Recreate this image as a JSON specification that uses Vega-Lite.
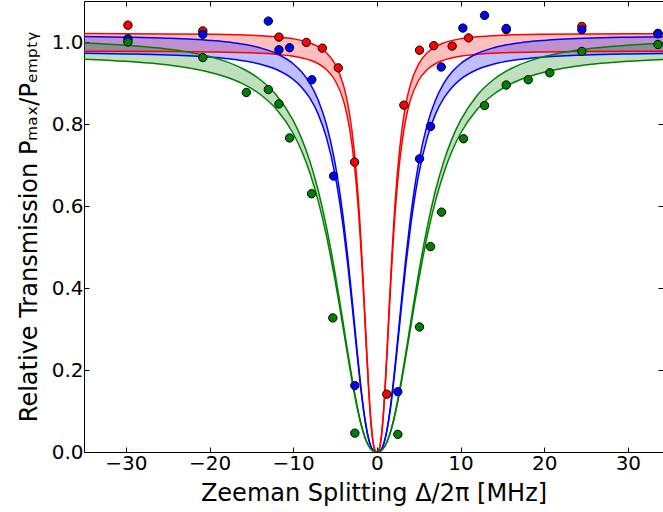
{
  "$schema": "https://vega.github.io/schema/vega-lite/v6.json",
  "autosize": "none",
  "width": 579,
  "height": 451,
  "padding": {"left": 84, "top": 1, "right": 0, "bottom": 60},
  "background": "white",
  "config": {
    "view": {"stroke": "black", "strokeWidth": 1},
    "font": "DejaVu Sans",
    "axis": {
      "domain": false,
      "grid": false,
      "tickColor": "black",
      "tickSize": -5,
      "tickWidth": 1,
      "labelColor": "black",
      "labelFont": "DejaVu Sans",
      "labelFontSize": 20,
      "titleFont": "DejaVu Sans",
      "titleFontSize": 24,
      "titleFontWeight": "normal",
      "titleColor": "black",
      "labelPadding": 6
    }
  },
  "datasets": {
    "curves": [
      {"c":"red","x":-35,"lo":0.9775,"hi":1.0205},{"c":"red","x":-30,"lo":0.9773,"hi":1.0203},{"c":"red","x":-25,"lo":0.9768,"hi":1.0198},{"c":"red","x":-20,"lo":0.9759,"hi":1.0189},{"c":"red","x":-15,"lo":0.9736,"hi":1.0164},{"c":"red","x":-12,"lo":0.9702,"hi":1.0128},{"c":"red","x":-10,"lo":0.9655,"hi":1.0079},{"c":"red","x":-8,"lo":0.9558,"hi":0.9978},{"c":"red","x":-7,"lo":0.947,"hi":0.9886},{"c":"red","x":-6,"lo":0.9324,"hi":0.9734},{"c":"red","x":-5,"lo":0.9067,"hi":0.9466},{"c":"red","x":-4,"lo":0.8576,"hi":0.8953},{"c":"red","x":-3.5,"lo":0.8158,"hi":0.8517},{"c":"red","x":-3,"lo":0.7542,"hi":0.7874},{"c":"red","x":-2.5,"lo":0.6621,"hi":0.6912},{"c":"red","x":-2,"lo":0.5281,"hi":0.5513},{"c":"red","x":-1.75,"lo":0.4435,"hi":0.463},{"c":"red","x":-1.5,"lo":0.3494,"hi":0.3648},{"c":"red","x":-1.25,"lo":0.2514,"hi":0.2625},{"c":"red","x":-1,"lo":0.1587,"hi":0.1657},{"c":"red","x":-0.75,"lo":0.0821,"hi":0.0857},{"c":"red","x":-0.5,"lo":0.0303,"hi":0.0317},{"c":"red","x":-0.25,"lo":0.0051,"hi":0.0054},{"c":"red","x":0,"lo":0,"hi":0},{"c":"red","x":0.25,"lo":0.0051,"hi":0.0054},{"c":"red","x":0.5,"lo":0.0303,"hi":0.0317},{"c":"red","x":0.75,"lo":0.0821,"hi":0.0857},{"c":"red","x":1,"lo":0.1587,"hi":0.1657},{"c":"red","x":1.25,"lo":0.2514,"hi":0.2625},{"c":"red","x":1.5,"lo":0.3494,"hi":0.3648},{"c":"red","x":1.75,"lo":0.4435,"hi":0.463},{"c":"red","x":2,"lo":0.5281,"hi":0.5513},{"c":"red","x":2.5,"lo":0.6621,"hi":0.6912},{"c":"red","x":3,"lo":0.7542,"hi":0.7874},{"c":"red","x":3.5,"lo":0.8158,"hi":0.8517},{"c":"red","x":4,"lo":0.8576,"hi":0.8953},{"c":"red","x":5,"lo":0.9067,"hi":0.9466},{"c":"red","x":6,"lo":0.9324,"hi":0.9734},{"c":"red","x":7,"lo":0.947,"hi":0.9886},{"c":"red","x":8,"lo":0.9558,"hi":0.9978},{"c":"red","x":10,"lo":0.9655,"hi":1.0079},{"c":"red","x":12,"lo":0.9702,"hi":1.0128},{"c":"red","x":15,"lo":0.9736,"hi":1.0164},{"c":"red","x":20,"lo":0.9759,"hi":1.0189},{"c":"red","x":25,"lo":0.9768,"hi":1.0198},{"c":"red","x":30,"lo":0.9773,"hi":1.0203},{"c":"red","x":35,"lo":0.9775,"hi":1.0205},
      {"c":"blue","x":-35,"lo":0.9723,"hi":1.0132},{"c":"blue","x":-30,"lo":0.9709,"hi":1.0117},{"c":"blue","x":-25,"lo":0.9685,"hi":1.0092},{"c":"blue","x":-20,"lo":0.9634,"hi":1.0039},{"c":"blue","x":-17,"lo":0.9575,"hi":0.9977},{"c":"blue","x":-14,"lo":0.9463,"hi":0.9861},{"c":"blue","x":-12,"lo":0.9328,"hi":0.972},{"c":"blue","x":-10,"lo":0.9088,"hi":0.947},{"c":"blue","x":-9,"lo":0.8899,"hi":0.9273},{"c":"blue","x":-8,"lo":0.8629,"hi":0.8992},{"c":"blue","x":-7,"lo":0.8235,"hi":0.8581},{"c":"blue","x":-6,"lo":0.765,"hi":0.7972},{"c":"blue","x":-5,"lo":0.6766,"hi":0.705},{"c":"blue","x":-4.5,"lo":0.617,"hi":0.6429},{"c":"blue","x":-4,"lo":0.5453,"hi":0.5682},{"c":"blue","x":-3.5,"lo":0.461,"hi":0.4804},{"c":"blue","x":-3,"lo":0.3658,"hi":0.3812},{"c":"blue","x":-2.5,"lo":0.2653,"hi":0.2765},{"c":"blue","x":-2,"lo":0.1688,"hi":0.1759},{"c":"blue","x":-1.5,"lo":0.0879,"hi":0.0916},{"c":"blue","x":-1,"lo":0.0326,"hi":0.0339},{"c":"blue","x":-0.5,"lo":0.0055,"hi":0.0058},{"c":"blue","x":0,"lo":0,"hi":0},{"c":"blue","x":0.5,"lo":0.0055,"hi":0.0058},{"c":"blue","x":1,"lo":0.0326,"hi":0.0339},{"c":"blue","x":1.5,"lo":0.0879,"hi":0.0916},{"c":"blue","x":2,"lo":0.1688,"hi":0.1759},{"c":"blue","x":2.5,"lo":0.2653,"hi":0.2765},{"c":"blue","x":3,"lo":0.3658,"hi":0.3812},{"c":"blue","x":3.5,"lo":0.461,"hi":0.4804},{"c":"blue","x":4,"lo":0.5453,"hi":0.5682},{"c":"blue","x":4.5,"lo":0.617,"hi":0.6429},{"c":"blue","x":5,"lo":0.6766,"hi":0.705},{"c":"blue","x":6,"lo":0.765,"hi":0.7972},{"c":"blue","x":7,"lo":0.8235,"hi":0.8581},{"c":"blue","x":8,"lo":0.8629,"hi":0.8992},{"c":"blue","x":9,"lo":0.8899,"hi":0.9273},{"c":"blue","x":10,"lo":0.9088,"hi":0.947},{"c":"blue","x":12,"lo":0.9328,"hi":0.972},{"c":"blue","x":14,"lo":0.9463,"hi":0.9861},{"c":"blue","x":17,"lo":0.9575,"hi":0.9977},{"c":"blue","x":20,"lo":0.9634,"hi":1.0039},{"c":"blue","x":25,"lo":0.9685,"hi":1.0092},{"c":"blue","x":30,"lo":0.9709,"hi":1.0117},{"c":"blue","x":35,"lo":0.9723,"hi":1.0132},
      {"c":"green","x":-35,"lo":0.9582,"hi":0.9977},{"c":"green","x":-30,"lo":0.953,"hi":0.9923},{"c":"green","x":-26,"lo":0.9462,"hi":0.9853},{"c":"green","x":-23,"lo":0.9384,"hi":0.9771},{"c":"green","x":-20,"lo":0.9264,"hi":0.9646},{"c":"green","x":-18,"lo":0.9145,"hi":0.9522},{"c":"green","x":-16,"lo":0.8977,"hi":0.9348},{"c":"green","x":-14,"lo":0.8732,"hi":0.9092},{"c":"green","x":-12,"lo":0.8358,"hi":0.8702},{"c":"green","x":-10,"lo":0.7768,"hi":0.8088},{"c":"green","x":-9,"lo":0.7347,"hi":0.765},{"c":"green","x":-8,"lo":0.6807,"hi":0.7088},{"c":"green","x":-7,"lo":0.6119,"hi":0.6371},{"c":"green","x":-6,"lo":0.5251,"hi":0.5467},{"c":"green","x":-5.5,"lo":0.4744,"hi":0.494},{"c":"green","x":-5,"lo":0.4194,"hi":0.4367},{"c":"green","x":-4.5,"lo":0.3605,"hi":0.3754},{"c":"green","x":-4,"lo":0.2991,"hi":0.3115},{"c":"green","x":-3.5,"lo":0.2372,"hi":0.2469},{"c":"green","x":-3,"lo":0.1772,"hi":0.1845},{"c":"green","x":-2.5,"lo":0.1223,"hi":0.1274},{"c":"green","x":-2,"lo":0.0756,"hi":0.0787},{"c":"green","x":-1.5,"lo":0.0394,"hi":0.041},{"c":"green","x":-1,"lo":0.0153,"hi":0.0159},{"c":"green","x":-0.5,"lo":0.0029,"hi":0.003},{"c":"green","x":0,"lo":0,"hi":0},{"c":"green","x":0.5,"lo":0.0029,"hi":0.003},{"c":"green","x":1,"lo":0.0153,"hi":0.0159},{"c":"green","x":1.5,"lo":0.0394,"hi":0.041},{"c":"green","x":2,"lo":0.0756,"hi":0.0787},{"c":"green","x":2.5,"lo":0.1223,"hi":0.1274},{"c":"green","x":3,"lo":0.1772,"hi":0.1845},{"c":"green","x":3.5,"lo":0.2372,"hi":0.2469},{"c":"green","x":4,"lo":0.2991,"hi":0.3115},{"c":"green","x":4.5,"lo":0.3605,"hi":0.3754},{"c":"green","x":5,"lo":0.4194,"hi":0.4367},{"c":"green","x":5.5,"lo":0.4744,"hi":0.494},{"c":"green","x":6,"lo":0.5251,"hi":0.5467},{"c":"green","x":7,"lo":0.6119,"hi":0.6371},{"c":"green","x":8,"lo":0.6807,"hi":0.7088},{"c":"green","x":9,"lo":0.7347,"hi":0.765},{"c":"green","x":10,"lo":0.7768,"hi":0.8088},{"c":"green","x":12,"lo":0.8358,"hi":0.8702},{"c":"green","x":14,"lo":0.8732,"hi":0.9092},{"c":"green","x":16,"lo":0.8977,"hi":0.9348},{"c":"green","x":18,"lo":0.9145,"hi":0.9522},{"c":"green","x":20,"lo":0.9264,"hi":0.9646},{"c":"green","x":23,"lo":0.9384,"hi":0.9771},{"c":"green","x":26,"lo":0.9462,"hi":0.9853},{"c":"green","x":30,"lo":0.953,"hi":0.9923},{"c":"green","x":35,"lo":0.9582,"hi":0.9977}
    ],
    "points": [
      {"c":"red","x":-29.75,"y":1.041},{"c":"red","x":-20.8,"y":1.027},{"c":"red","x":-11.7,"y":1.012},{"c":"red","x":-8.43,"y":0.999},{"c":"red","x":-6.52,"y":0.985},{"c":"red","x":-4.61,"y":0.937},{"c":"red","x":-2.66,"y":0.707},{"c":"red","x":1.19,"y":0.141},{"c":"red","x":3.23,"y":0.846},{"c":"red","x":5.1,"y":0.98},{"c":"red","x":6.8,"y":0.991},{"c":"red","x":9.0,"y":0.99},{"c":"red","x":10.96,"y":1.01},{"c":"red","x":15.46,"y":1.03},{"c":"red","x":24.5,"y":1.038},{"c":"red","x":33.6,"y":1.021},
      {"c":"blue","x":-29.75,"y":1.008},{"c":"blue","x":-20.8,"y":1.019},{"c":"blue","x":-12.97,"y":1.051},{"c":"blue","x":-11.7,"y":0.981},{"c":"blue","x":-10.43,"y":0.986},{"c":"blue","x":-7.77,"y":0.908},{"c":"blue","x":-5.17,"y":0.673},{"c":"blue","x":-2.63,"y":0.162},{"c":"blue","x":2.51,"y":0.147},{"c":"blue","x":5.1,"y":0.715},{"c":"blue","x":6.42,"y":0.794},{"c":"blue","x":7.69,"y":0.939},{"c":"blue","x":10.28,"y":1.034},{"c":"blue","x":12.87,"y":1.065},{"c":"blue","x":15.46,"y":1.033},{"c":"blue","x":24.5,"y":1.03},{"c":"blue","x":33.6,"y":1.02},
      {"c":"green","x":-29.75,"y":1.0},{"c":"green","x":-20.8,"y":0.962},{"c":"green","x":-15.6,"y":0.877},{"c":"green","x":-12.97,"y":0.884},{"c":"green","x":-11.7,"y":0.849},{"c":"green","x":-10.43,"y":0.766},{"c":"green","x":-7.8,"y":0.63},{"c":"green","x":-5.26,"y":0.327},{"c":"green","x":-2.63,"y":0.046},{"c":"green","x":2.51,"y":0.043},{"c":"green","x":5.1,"y":0.305},{"c":"green","x":6.42,"y":0.501},{"c":"green","x":7.73,"y":0.585},{"c":"green","x":10.36,"y":0.764},{"c":"green","x":12.87,"y":0.845},{"c":"green","x":15.46,"y":0.895},{"c":"green","x":18.09,"y":0.908},{"c":"green","x":20.67,"y":0.925},{"c":"green","x":24.5,"y":0.977},{"c":"green","x":33.6,"y":0.994}
    ]
  },
  "resolve": {"axis": {"x": "independent", "y": "independent"}},
  "layer": [
    {
      "data": {"name": "curves"},
      "mark": {"type": "area", "interpolate": "monotone", "fillOpacity": 0.25, "clip": true},
      "encoding": {
        "x": {"field": "x", "type": "quantitative", "scale": {"domain": [-35, 34.2], "nice": false, "zero": false},
              "axis": {"values": [-30, -20, -10, 0, 10, 20, 30], "title": "Zeeman Splitting Δ/2π [MHz]", "titlePadding": 8}},
        "y": {"field": "lo", "type": "quantitative", "stack": null, "scale": {"domain": [0, 1.1], "nice": false},
              "axis": {"values": [0, 0.2, 0.4, 0.6, 0.8, 1.0], "format": ".1f", "title": "Relative Transmission Pₘₐₓ/Pₑₘₚₜᵧ", "titlePadding": 10}},
        "y2": {"field": "hi"},
        "color": {"field": "c", "type": "nominal", "scale": {"domain": ["red", "blue", "green"], "range": ["#ff0000", "#0000ff", "#008000"]}, "legend": null}
      }
    },
    {
      "data": {"name": "curves"},
      "mark": {"type": "line", "interpolate": "monotone", "strokeWidth": 1.5, "clip": true},
      "encoding": {
        "x": {"field": "x", "type": "quantitative", "scale": {"domain": [-35, 34.2], "nice": false, "zero": false},
              "axis": {"orient": "top", "values": [-30, -20, -10, 0, 10, 20, 30], "labels": false, "title": null}},
        "y": {"field": "lo", "type": "quantitative", "scale": {"domain": [0, 1.1], "nice": false},
              "axis": {"orient": "right", "values": [0, 0.2, 0.4, 0.6, 0.8, 1.0], "labels": false, "title": null}},
        "color": {"field": "c", "type": "nominal", "legend": null}
      }
    },
    {
      "data": {"name": "curves"},
      "mark": {"type": "line", "interpolate": "monotone", "strokeWidth": 1.5, "clip": true},
      "encoding": {
        "x": {"field": "x", "type": "quantitative", "axis": null},
        "y": {"field": "hi", "type": "quantitative", "axis": null},
        "color": {"field": "c", "type": "nominal", "legend": null}
      }
    },
    {
      "data": {"name": "points"},
      "mark": {"type": "point", "shape": "circle", "filled": true, "size": 70, "stroke": "black", "strokeWidth": 1, "opacity": 1},
      "encoding": {
        "x": {"field": "x", "type": "quantitative", "axis": null},
        "y": {"field": "y", "type": "quantitative", "axis": null},
        "fill": {"field": "c", "type": "nominal", "scale": {"domain": ["red", "blue", "green"], "range": ["#ff0000", "#0000ff", "#008000"]}, "legend": null}
      }
    }
  ]
}
